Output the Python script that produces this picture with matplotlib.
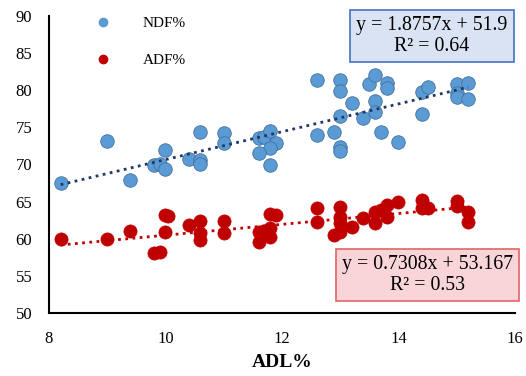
import matplotlib.pyplot as plt
from matplotlib.lines import Line2D

plt.rcParams['font.family'] = ['Liberation Serif', 'DejaVu Serif']

# NDF% vs ADL%
ndf_x = [8.2, 9.0, 9.4, 9.8, 9.9, 10.0, 10.0, 10.4, 10.6, 10.6, 10.6, 11.0, 11.0,
         11.6, 11.7, 11.8, 11.9, 11.8, 11.6, 11.8, 12.6, 12.6, 12.9, 13.0, 13.0,
         13.2, 13.5, 13.6, 13.8, 13.8, 13.6, 13.6, 13.4, 13.0, 13.0, 13.0, 13.7,
         14.0, 14.4, 14.5, 14.4, 15.0, 15.2, 15.0, 15.0, 15.2]
ndf_y = [67.5, 73.2, 67.9, 69.9, 70.1, 72.0, 69.4, 70.8, 74.4, 70.6, 70.1, 74.2, 72.9,
         73.6, 73.7, 74.5, 72.9, 72.2, 71.5, 70.0, 81.4, 74.0, 74.4, 81.4, 79.9,
         78.3, 80.9, 82.0, 81.0, 80.3, 78.5, 77.1, 76.2, 76.5, 72.3, 71.8, 74.4,
         73.0, 79.8, 80.4, 76.8, 80.8, 81.0, 79.6, 79.1, 78.8]

# ADF% vs ADL%
adf_x = [8.2, 9.0, 9.4, 9.8, 9.9, 10.0, 10.05, 10.0, 10.4, 10.6, 10.6, 10.6, 11.0, 11.0,
         11.6, 11.6, 11.7, 11.8, 11.9, 11.8, 11.8, 12.6, 12.6, 12.9, 13.0, 13.0,
         13.0, 13.0, 13.2, 13.4, 13.6, 13.6, 13.7, 13.8, 13.8, 14.0, 14.4, 14.4,
         14.5, 15.0, 15.0, 15.2, 15.2]
adf_y = [60.0, 60.0, 61.0, 58.1, 58.2, 63.2, 63.0, 60.9, 61.8, 62.4, 60.8, 59.8, 62.4, 60.8,
         60.9, 59.5, 61.0, 63.3, 63.2, 60.2, 61.4, 64.2, 62.2, 60.5, 64.3, 62.9,
         62.1, 60.9, 61.6, 62.8, 63.6, 62.1, 63.9, 64.5, 62.9, 65.0, 65.2, 64.1,
         64.2, 65.1, 64.4, 63.6, 62.2]

# linear trend coefficients shown on the chart
ndf_fit = (1.8757, 51.9, 0.64)
adf_fit = (0.7308, 53.167, 0.53)

BLUE = "#5B9BD5"
BLUE_EDGE = "#41719C"
RED = "#C00000"
NAVY = "#203864"

fig = plt.figure(figsize=(5.26, 3.76), dpi=100)
ax = fig.add_axes([0.093, 0.1676, 0.886, 0.7898])

ax.scatter(ndf_x, ndf_y, s=95, color=BLUE, edgecolors=BLUE_EDGE, linewidths=0.6, zorder=3)
ax.scatter(adf_x, adf_y, s=90, color=RED, edgecolors=RED, linewidths=0.5, zorder=3)

xs = [min(ndf_x), max(ndf_x)]
ax.plot(xs, [ndf_fit[0] * x + ndf_fit[1] for x in xs], color=NAVY, lw=2,
        linestyle=(0, (1, 1.6)), zorder=4)
xs = [min(adf_x), max(adf_x)]
ax.plot(xs, [adf_fit[0] * x + adf_fit[1] for x in xs], color=RED, lw=2,
        linestyle=(0, (1, 1.6)), zorder=4)

ax.set_xlim(8, 16)
ax.set_ylim(50, 90)
ax.set_xticks([8, 10, 12, 14, 16])
ax.set_yticks(range(50, 91, 5))
ax.tick_params(length=0, labelsize=12)
ax.tick_params(axis='x', pad=13)
ax.tick_params(axis='y', pad=12)
for s in ['top', 'right']:
    ax.spines[s].set_visible(False)
for s in ['left', 'bottom']:
    ax.spines[s].set_linewidth(1.5)
    ax.spines[s].set_color('black')

ax.set_xlabel('ADL%', fontsize=14, fontweight='bold', labelpad=5)

handles = [
    Line2D([], [], marker='o', ls='', color=BLUE, markersize=6, label='NDF%'),
    Line2D([], [], marker='o', ls='', color=RED, markersize=6, label='ADF%'),
]
ax.legend(handles=handles, loc='upper left', bbox_to_anchor=(0.07, 1.02),
          frameon=False, fontsize=11, handletextpad=1.6, labelspacing=1.55,
          borderaxespad=0)

ax.text(0.822, 0.934,
        f'y = {ndf_fit[0]}x + {ndf_fit[1]}\nR² = {ndf_fit[2]}',
        transform=ax.transAxes, ha='center', va='center', fontsize=14.3,
        linespacing=1.15,
        bbox=dict(boxstyle='square,pad=0.3', facecolor='#DAE3F3', edgecolor='#4472C4', lw=1.2))
ax.text(0.813, 0.128,
        f'y = {adf_fit[0]}x + {adf_fit[1]}\nR² = {adf_fit[2]}',
        transform=ax.transAxes, ha='center', va='center', fontsize=14.3,
        linespacing=1.15,
        bbox=dict(boxstyle='square,pad=0.3', facecolor='#F9D5DA', edgecolor='#E06666', lw=1.2))

fig.savefig('out.png', dpi=100)
